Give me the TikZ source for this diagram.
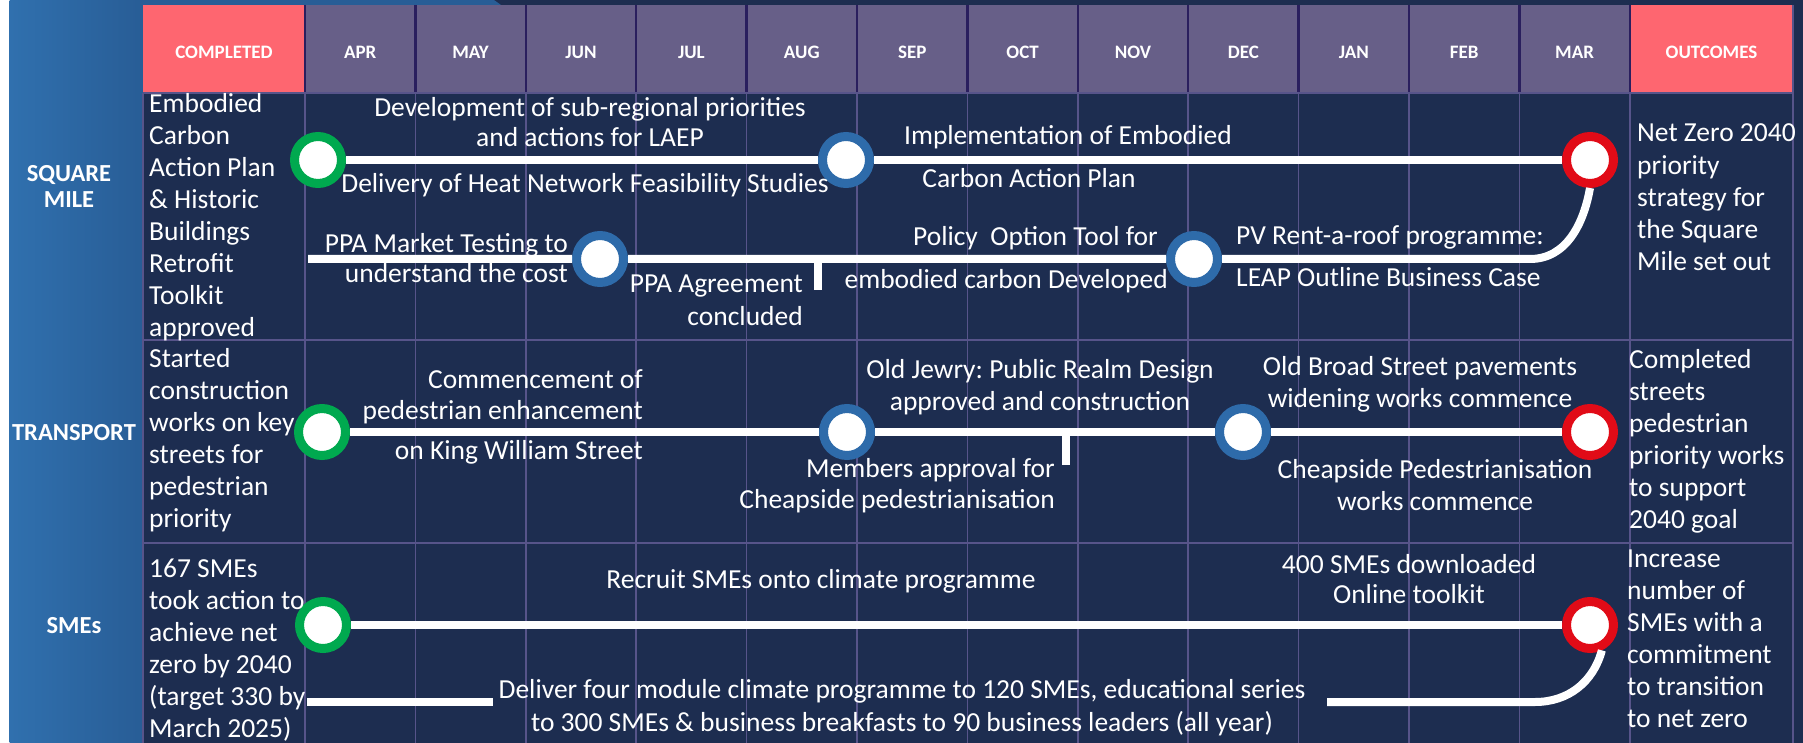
\documentclass[tikz,border=0pt]{standalone}
\usepackage{fontspec}
\setmainfont{Carlito}
\frenchspacing
\definecolor{bgnavy}{HTML}{1D2D50}
\definecolor{panelblue}{HTML}{3070AE}
\definecolor{panelblueR}{HTML}{285D96}
\definecolor{hdrviolet}{HTML}{675F88}
\definecolor{hdrcoral}{HTML}{FE6670}
\definecolor{hdrline}{HTML}{2A1F5E}
\definecolor{gridline}{HTML}{57548A}
\definecolor{ringgreen}{HTML}{00A94F}
\definecolor{ringblue}{HTML}{2E6BAA}
\definecolor{ringred}{HTML}{E10B17}
\newcommand{\monthw}{110.4}   % width of one month column
\newcommand{\firstm}{305}     % left edge of APR

\begin{document}
\begin{tikzpicture}[x=1pt, y=-1pt,
  track/.style={white, line width=8pt},
  ring/.style={circle, fill=white, line width=9pt, minimum size=47pt,
    inner sep=0pt, outer sep=4.5pt},
  startdot/.style={ring, draw=ringgreen},
  middot/.style={ring, draw=ringblue},
  enddot/.style={ring, draw=ringred},
  txt/.style={font=\fontsize{27.5}{#1}\selectfont, text=white, inner sep=0pt},
  txt/.default=32,
  hdr/.style={font=\fontsize{19}{22}\selectfont\bfseries, text=white,
    inner sep=0pt, anchor=base},
  rowlbl/.style={font=\fontsize{24.5}{26}\selectfont\bfseries, text=white,
    inner sep=0pt, align=center, anchor=base}]
  \useasboundingbox (0,0) rectangle (1803,743);
  % background, left panel and the strip above the header
  \fill[white] (0,0) rectangle (1803,743);
  \fill[bgnavy] (9.6,0) rectangle (1803,743);
  \shade[left color=panelblue, right color=panelblueR] (9.6,0) rectangle (143,743);
  \fill[panelblueR] (143,0) -- (494,0) -- (501,5) -- (143,5) -- cycle;
  % header cells
  \fill[hdrcoral] (143,5) rectangle (\firstm,93);
  \fill[hdrviolet] (\firstm,5) rectangle (1630,93);
  \fill[hdrcoral] (1630,5) rectangle (1793,93);
  % grid
  \foreach \i in {0,...,12}
  {
     \draw[hdrline, line width=2.5pt] (\firstm+\i*\monthw,5) -- ++(0,88);
     \draw[gridline, line width=1.5pt] (\firstm+\i*\monthw,93) -- ++(0,650);
  }
  \foreach \y in {93,340,543}
     \draw[gridline, line width=1.5pt] (143,\y) -- (1793,\y);
  \draw[gridline, line width=1.5pt] (143,93) -- (143,743) (1793,5) -- (1793,743);
  % header labels
  \node[hdr] (hcompleted) at (224,59) {COMPLETED};
  \foreach \m [count=\i from 0] in {APR,MAY,JUN,JUL,AUG,SEP,OCT,NOV,DEC,JAN,FEB,MAR}
     \node[hdr] (h\m) at (\firstm+\monthw/2+\i*\monthw,59) {\m};
  \node[hdr] (houtcomes) at (1711.5,59) {OUTCOMES};
  % row labels (base = last line)
  \node[rowlbl] (lsquare) at (69,208) {SQUARE\\MILE};
  \node[rowlbl] (ltransport) at (74,440) {TRANSPORT};
  \node[rowlbl] (lsmes) at (74,633) {SMEs};

  %% Square Mile
  \node[startdot] (sqstart) at (318,160) {};
  \node[middot] (sqheat) at (846,160) {};
  \node[enddot] (sqgoal) at (1590,160) {};
  \node[middot] (sqppa) at (600,259) {};
  \node[middot] (sqtool) at (1194,259) {};
  \coordinate (sqlow) at (308,259);
  \coordinate (sqbend) at (1530,259);
  \coordinate (sqtick) at (818,259);
  \draw[track] (sqstart) -- (sqheat) -- (sqgoal);
  \draw[track] (sqlow) -- (sqppa) -- (sqtool) -- (sqbend) to[out=0, in=-100] (sqgoal.south);
  \draw[track] (sqtick) -- ++(0,31);
  \node[txt, align=left, anchor=base west] (sqdone) at (149,336)
     {Embodied\\Carbon\\Action Plan\\\& Historic\\Buildings\\Retrofit\\Toolkit\\approved};
  \node[txt=30, align=center, anchor=base] (sqlaep) at (590,147)
     {Development of sub-regional priorities\\and actions for LAEP};
  \node[txt, anchor=base] (sqheatnet) at (585,193) {Delivery of Heat Network Feasibility Studies};
  \node[txt, anchor=base] (sqimpl) at (1068,145) {Implementation of Embodied};
  \node[txt, anchor=base] (sqimplb) at (1029,188) {Carbon Action Plan};
  \node[txt=31, align=right, anchor=base east] (sqmarket) at (568,283)
     {PPA Market Testing to\\understand the cost};
  \node[txt=33, align=right, anchor=base east] (sqagree) at (803,325)
     {PPA Agreement\\concluded};
  \node[txt, anchor=base east] (sqpolicy) at (1158,246) {Policy\ \ Option Tool for};
  \node[txt, anchor=base east] (sqpolicyb) at (1168,288) {embodied carbon Developed};
  \node[txt=43, align=left, anchor=base west] (sqpv) at (1236,287)
     {PV Rent-a-roof programme:\\LEAP Outline Business Case};
  \node[txt, align=left, anchor=base west] (sqout) at (1637,270)
     {Net Zero 2040\\priority\\strategy for\\the Square\\Mile set out};

  %% Transport
  \node[startdot] (trstart) at (322,432) {};
  \node[middot] (trking) at (847,432) {};
  \node[middot] (trbroad) at (1243,432) {};
  \node[enddot] (trgoal) at (1590,432) {};
  \coordinate (trtick) at (1066,432);
  \draw[track] (trstart) -- (trking) -- (trbroad) -- (trgoal);
  \draw[track] (trtick) -- ++(0,33);
  \node[txt, align=left, anchor=base west] (trdone) at (149,527)
     {Started\\construction\\works on key\\streets for\\pedestrian\\priority};
  \node[txt=31, align=right, anchor=base east] (trkingtxt) at (643,459)
     {Commencement of\\pedestrian enhancement\\[9pt]on King William Street};
  \node[txt, align=center, anchor=base] (trjewry) at (1040,410)
     {Old Jewry: Public Realm Design\\approved and construction};
  \node[txt=31, align=right, anchor=base east] (trmembers) at (1055,508)
     {Members approval for\\Cheapside pedestrianisation};
  \node[txt, align=center, anchor=base] (trbroadtxt) at (1420,407)
     {Old Broad Street pavements\\widening works commence};
  \node[txt, align=center, anchor=base] (trcheap) at (1435,510)
     {Cheapside Pedestrianisation\\works commence};
  \node[txt, align=left, anchor=base west] (trout) at (1629,528)
     {Completed\\streets\\pedestrian\\priority works\\to support\\2040 goal};

  %% SMEs
  \node[startdot] (smstart) at (323,625) {};
  \node[enddot] (smgoal) at (1590,625) {};
  \coordinate (smlowa) at (307,702);
  \coordinate (smlowb) at (493,702);
  \coordinate (smlowc) at (1327,702);
  \coordinate (smbend) at (1535,702);
  \draw[track] (smstart) -- (smgoal);
  \draw[track] (smlowa) -- (smlowb);
  \draw[track] (smlowc) -- (smbend) to[out=0, in=-105] (smgoal.-65);
  \node[txt, align=left, anchor=base west] (smdone) at (149,737)
     {167 SMEs\\took action to\\achieve net\\zero by 2040\\(target 330 by\\March 2025)};
  \node[txt, anchor=base] (smrecruit) at (821,588) {Recruit SMEs onto climate programme};
  \node[txt=30, align=center, anchor=base] (smtoolkit) at (1409,603)
     {400 SMEs downloaded\\Online toolkit};
  \node[txt=33, align=center, anchor=base] (smdeliver) at (902,731)
     {Deliver four module climate programme to 120 SMEs, educational series\\to 300 SMEs \& business breakfasts to 90 business leaders (all year)};
  \node[txt, align=left, anchor=base west] (smout) at (1627,727)
     {Increase\\number of\\SMEs with a\\commitment\\to transition\\to net zero};
\end{tikzpicture}
\end{document}
